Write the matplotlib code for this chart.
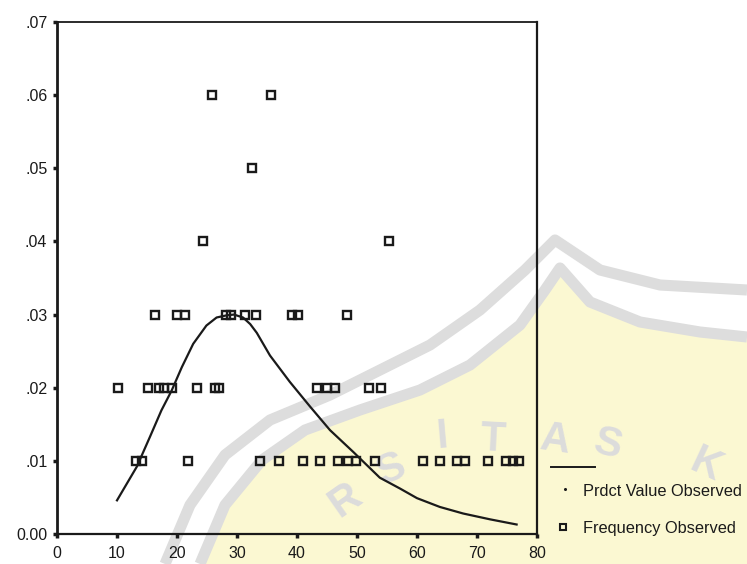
import matplotlib
matplotlib.use("Agg")
import matplotlib.pyplot as plt
from matplotlib.lines import Line2D
from matplotlib.patches import Polygon

plt.rcParams['font.family'] = ['Liberation Sans', 'DejaVu Sans']

# observed relative frequencies
obs_x = [25.8, 35.7,
         32.5,
         24.3, 55.3,
         16.3, 20.0, 21.3, 28.2, 29.0, 31.3, 33.2, 39.2, 40.2, 48.3,
         10.2, 15.2, 17.0, 17.8, 19.1, 23.3, 26.3, 27.0, 43.3, 45.0, 46.3, 52.0, 54.0,
         13.2, 14.1, 21.9, 33.9, 37.0, 41.0, 43.8, 46.9, 48.5, 49.8, 53.0,
         61.0, 63.8, 66.7, 68.0, 71.9, 74.9, 76.0, 77.0]
obs_y = [0.06, 0.06,
         0.05,
         0.04, 0.04,
         0.03, 0.03, 0.03, 0.03, 0.03, 0.03, 0.03, 0.03, 0.03, 0.03,
         0.02, 0.02, 0.02, 0.02, 0.02, 0.02, 0.02, 0.02, 0.02, 0.02, 0.02, 0.02, 0.02,
         0.01, 0.01, 0.01, 0.01, 0.01, 0.01, 0.01, 0.01, 0.01, 0.01, 0.01,
         0.01, 0.01, 0.01, 0.01, 0.01, 0.01, 0.01, 0.01]

# predicted values
pred_x = [10.0, 13.3, 15.5, 17.4, 19.1, 20.8, 22.7, 24.9, 26.6, 28.3, 29.5,
          31.0, 32.2, 33.3, 35.5, 38.8, 42.2, 45.5, 49.4, 53.8, 57.2, 60.0,
          63.8, 67.7, 72.2, 76.6]
pred_y = [0.0046, 0.0092, 0.0133, 0.0169, 0.0196, 0.0228, 0.0260, 0.0285,
          0.0296, 0.0299, 0.0300, 0.0296, 0.0287, 0.0275, 0.0244, 0.0208,
          0.0174, 0.0142, 0.0112, 0.0077, 0.0062, 0.0049, 0.0037, 0.0028,
          0.0020, 0.0013]

x_ticks = [0, 10, 20, 30, 40, 50, 60, 70, 80]
y_ticks = [0.0, 0.01, 0.02, 0.03, 0.04, 0.05, 0.06, 0.07]
y_labels = ['0.00', '.01', '.02', '.03', '.04', '.05', '.06', '.07']

W, H = 747, 564
fig = plt.figure(figsize=(W / 100, H / 100), dpi=100)


def px(x, y):
    return (x / W, 1 - y / H)


# faint seal in the background (kept below the axes)
yellow = [(205, 564), (230, 500), (265, 455), (310, 425), (360, 405), (420, 385),
          (470, 360), (520, 320), (545, 285), (560, 265), (590, 300), (640, 320),
          (700, 330), (747, 335), (747, 564)]
fig.add_artist(Polygon([px(*p) for p in yellow], closed=True, transform=fig.transFigure,
                       facecolor='#fbf8d2', edgecolor='none', zorder=-3))
band_in = [(200, 564), (225, 505), (262, 460), (305, 430), (360, 410), (420, 390),
           (470, 365), (520, 325), (545, 290), (560, 268), (590, 302), (640, 322),
           (700, 332), (747, 337)]
band_out = [(165, 564), (190, 505), (225, 455), (270, 420), (330, 395), (430, 345),
            (480, 310), (525, 270), (555, 240), (600, 270), (660, 285), (747, 290)]
for band in (band_in, band_out):
    xs, ys = zip(*[px(*p) for p in band])
    fig.add_artist(Line2D(xs, ys, transform=fig.transFigure, color='#dddddd',
                          lw=8, solid_capstyle='butt', solid_joinstyle='round',
                          zorder=-2))
seal_letters = [('R', 345, 500, 35), ('S', 392, 470, 22), ('I', 442, 437, 5),
                ('T', 493, 440, -3), ('A', 555, 440, -8), ('S', 608, 445, -14),
                ('K', 705, 465, -25)]
for ch, lx, ly, rot in seal_letters:
    fig.text(*px(lx, ly), ch, fontsize=30, fontweight='bold', color='#dcdcdc',
             rotation=rot, ha='center', va='center', zorder=-1)

ax = fig.add_axes([57 / W, 1 - 534 / H, 480 / W, 512 / H])
ax.patch.set_alpha(0)

ax.plot(pred_x, pred_y, color='#1a1a1a', lw=1.6, zorder=3)
ax.plot(obs_x, obs_y, ls='none', marker='s', ms=5.5, mfc='none', mec='#1a1a1a',
        mew=1.7, zorder=4)

ax.set_xlim(0, 80)
ax.set_ylim(0, 0.07)
ax.set_xticks(x_ticks)
ax.set_xticklabels([str(t) for t in x_ticks])
ax.set_yticks(y_ticks)
ax.set_yticklabels(y_labels)
ax.tick_params(axis='both', direction='out', length=3, width=2.5, labelsize=11.5,
               color='#1a1a1a', labelcolor='#1a1a1a')
ax.tick_params(axis='x', pad=6)
ax.tick_params(axis='y', pad=4)
for side, lw in (('left', 2.0), ('bottom', 1.6), ('top', 1.3), ('right', 1.6)):
    ax.spines[side].set_linewidth(lw)
    ax.spines[side].set_color('#1a1a1a')

# legend drawn outside the frame
fig.add_artist(Line2D([551 / W, 595 / W], [1 - 467 / H] * 2, transform=fig.transFigure,
                      color='#1a1a1a', lw=1.4))
fig.add_artist(Line2D([565 / W], [1 - 489 / H], transform=fig.transFigure,
                      marker='o', ms=1.2, color='#1a1a1a', ls='none'))
fig.add_artist(Line2D([563 / W], [1 - 527 / H], transform=fig.transFigure,
                      marker='s', ms=5, mfc='none', mec='#1a1a1a', mew=1.5, ls='none'))
fig.text(583 / W, 1 - 491 / H, 'Prdct Value Observed', fontsize=11.8,
         va='center', ha='left', color='#1a1a1a')
fig.text(583 / W, 1 - 529 / H, 'Frequency Observed', fontsize=11.8,
         va='center', ha='left', color='#1a1a1a')

fig.savefig('out.png', dpi=100)
